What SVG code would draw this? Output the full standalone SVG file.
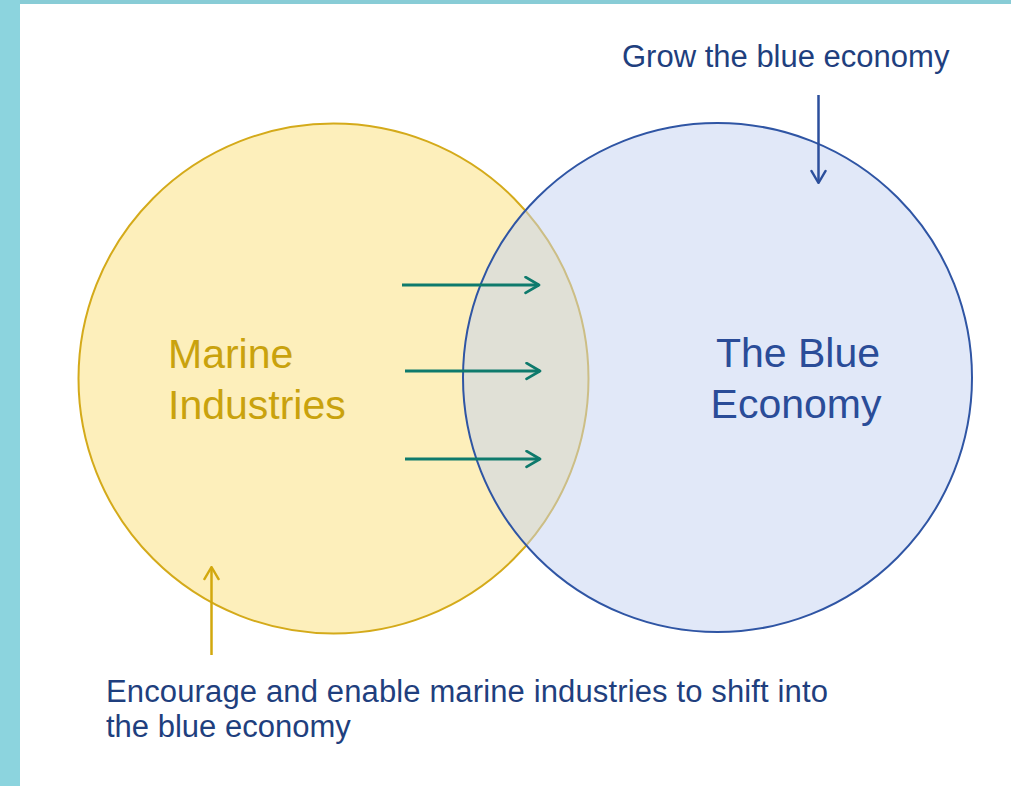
<svg xmlns="http://www.w3.org/2000/svg" width="1011" height="786" viewBox="0 0 1011 786">
<defs>
<style>
.t{font-family:"Liberation Sans",Arial,sans-serif}
.navy{fill:#1f3f7e;font-size:31px}
.big{font-size:41px}
.teal{stroke:#0e7a6c;stroke-width:3;fill:none}
</style>
<marker id="ah-teal" viewBox="0 0 12 12" refX="11" refY="6" markerWidth="19" markerHeight="19" markerUnits="userSpaceOnUse" orient="auto"><path d="M2.5,1 L11,6 L2.5,11" fill="none" stroke="#0e7a6c" stroke-width="1.7" stroke-linecap="round" stroke-linejoin="round"/></marker>
<marker id="ah-yel" viewBox="0 0 12 12" refX="11" refY="6" markerWidth="17" markerHeight="17" markerUnits="userSpaceOnUse" orient="auto"><path d="M2.5,1 L11,6 L2.5,11" fill="none" stroke="#d2a80e" stroke-width="1.7" stroke-linecap="round" stroke-linejoin="round"/></marker>
<marker id="ah-blue" viewBox="0 0 12 12" refX="11" refY="6" markerWidth="17" markerHeight="17" markerUnits="userSpaceOnUse" orient="auto"><path d="M2.5,1 L11,6 L2.5,11" fill="none" stroke="#2c4f9c" stroke-width="1.7" stroke-linecap="round" stroke-linejoin="round"/></marker>
</defs>
<rect x="0" y="0" width="1011" height="786" fill="#ffffff"/>
<rect x="0" y="0" width="20" height="786" fill="#8cd4de"/>
<rect x="20" y="0" width="991" height="4" fill="#88ccd6"/>
<g id="marine-industries">
<circle cx="333.5" cy="378.5" r="255" fill="#fdefbb" stroke="#d4aa1a" stroke-width="2"/>
</g>
<g id="blue-economy">
<circle cx="717.5" cy="377.5" r="254.5" fill="#c3d1f1" fill-opacity="0.5" stroke="#2f55a4" stroke-width="2"/>
</g>
<g id="labels">
<text class="t big" x="168" y="368" fill="#c9a20d">Marine</text>
<text class="t big" x="168" y="419" fill="#c9a20d">Industries</text>
<text class="t big" x="798" y="367" fill="#2a4c98" text-anchor="middle">The Blue</text>
<text class="t big" x="796" y="418" fill="#2a4c98" text-anchor="middle">Economy</text>
</g>
<g id="grow-label">
<text class="t navy" x="622" y="67">Grow the blue economy</text>
</g>
<g id="encourage-label">
<text class="t navy" x="106" y="702" textLength="722" lengthAdjust="spacing">Encourage and enable marine industries to shift into</text>
<text class="t navy" x="106" y="737">the blue economy</text>
</g>
<g id="connectors">
<line class="teal" x1="402" y1="285" x2="539" y2="285" marker-end="url(#ah-teal)"/>
<line class="teal" x1="405" y1="371" x2="540" y2="371" marker-end="url(#ah-teal)"/>
<line class="teal" x1="405" y1="459" x2="540" y2="459" marker-end="url(#ah-teal)"/>
<line x1="211.5" y1="655" x2="211.5" y2="567" stroke="#d2a80e" stroke-width="2.5" marker-end="url(#ah-yel)"/>
<line x1="818.5" y1="95" x2="818.5" y2="183" stroke="#2c4f9c" stroke-width="2.5" marker-end="url(#ah-blue)"/>
</g>
</svg>
